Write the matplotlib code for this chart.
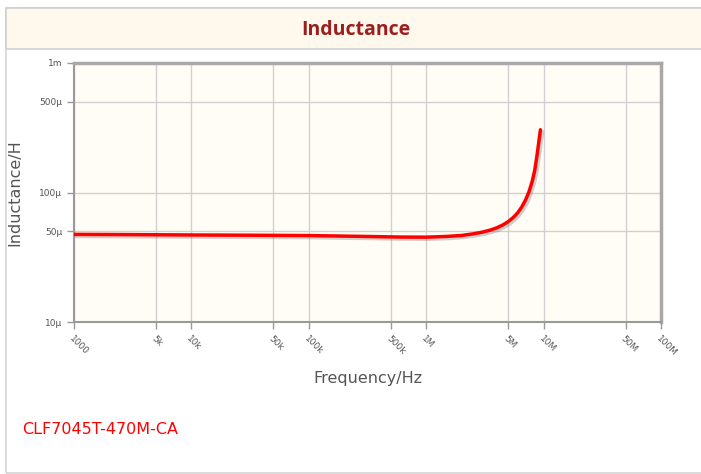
import matplotlib
matplotlib.use('Agg')
import matplotlib.pyplot as plt
import matplotlib.patheffects as pe
from matplotlib.patches import Rectangle

# Data
freq_hz = [1e3, 3e3, 1e4, 3e4, 1e5, 3e5, 6e5, 1e6, 1.5e6, 2e6, 2.5e6, 3e6, 3.5e6,
           4e6, 4.5e6, 5e6, 5.5e6, 6e6, 6.5e6, 7e6, 7.5e6, 8e6, 8.4e6, 8.8e6,
           9.1e6, 9.4e6]
inductance_uh = [47.5, 47.3, 47.0, 46.8, 46.5, 45.8, 45.3, 45.2, 45.8, 46.6, 47.9, 49.4, 51.2,
                 53.4, 56.2, 59.6, 64.0, 69.5, 77.0, 87.0, 101.0, 122.0, 148.0, 195.0,
                 245.0, 305.0]

x_ticks = [1e3, 5e3, 1e4, 5e4, 1e5, 5e5, 1e6, 5e6, 1e7, 5e7, 1e8]
x_tick_labels = ['1000', '5k', '10k', '50k', '100k', '500k', '1M', '5M', '10M', '50M', '100M']
y_ticks = [10e-6, 50e-6, 100e-6, 500e-6, 1e-3]
y_tick_labels = ['10µ', '50µ', '100µ', '500µ', '1m']

part_name = 'CLF7045T-470M-CA'

inductance_h = [v * 1e-6 for v in inductance_uh]

fig = plt.figure(figsize=(7.01, 4.74), dpi=100)
fig.patch.set_facecolor('white')

W, H = 701, 474

# outer frame and title band
fig.add_artist(Rectangle((6 / W, 1 - 473 / H), 1, (473 - 8) / H, transform=fig.transFigure,
                         facecolor='none', edgecolor='#d4d4d4', linewidth=1.2))
fig.add_artist(Rectangle((6 / W, 1 - 49 / H), 1, (49 - 8) / H, transform=fig.transFigure,
                         facecolor='#fef9ec', edgecolor='#d0d0d0', linewidth=1.2))
fig.text(356 / W, 1 - 30 / H, 'Inductance', ha='center', va='center',
         fontsize=14, fontweight='bold', color='#9b1f1f', family='Open Sans')

ax = fig.add_axes([74 / W, 1 - 322 / H, (661 - 74) / W, (322 - 63) / H])
ax.set_facecolor('#fffdf5')
ax.set_xscale('log')
ax.set_yscale('log')
ax.set_xlim(1e3, 1e8)
ax.set_ylim(10e-6, 1e-3)

ax.plot(freq_hz, inductance_h, color='#ff0000', linewidth=2.5, solid_capstyle='round',
        solid_joinstyle='round',
        path_effects=[pe.SimpleLineShadow(offset=(1.5, -1.5), shadow_color='#777777', alpha=0.35),
                      pe.Normal()], zorder=5)

ax.set_xticks(x_ticks)
ax.set_xticklabels(x_tick_labels, rotation=-45, ha='left', va='top', rotation_mode='anchor')
ax.set_yticks(y_ticks)
ax.set_yticklabels(y_tick_labels)
ax.minorticks_off()
ax.tick_params(axis='both', which='major', labelsize=6.5, labelcolor='#555555',
               color='#999999', length=5, width=1)
ax.tick_params(axis='x', pad=4)

ax.grid(True, which='major', color='#d0d0d0', linewidth=1)
ax.set_axisbelow(True)

for side in ['left', 'bottom']:
    ax.spines[side].set_color('#999999')
    ax.spines[side].set_linewidth(1.5)
for side in ['top', 'right']:
    ax.spines[side].set_color('#a8a8a8')
    ax.spines[side].set_linewidth(2.5)

ax.set_xlabel('Frequency/Hz', fontsize=11.5, color='#555555', labelpad=9)
ax.set_ylabel('Inductance/H', fontsize=11.5, color='#555555', labelpad=12)

fig.text(22 / W, 1 - 429 / H, part_name, ha='left', va='center', fontsize=11.5, color='#ff0000')

fig.savefig('out.png', dpi=100, facecolor='white')
